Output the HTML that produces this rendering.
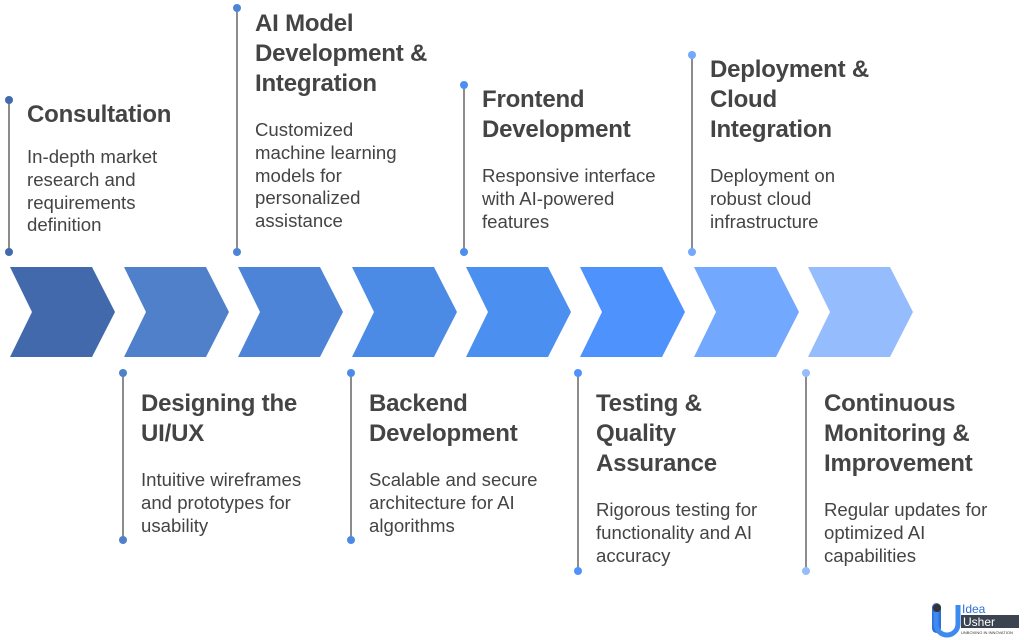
<!DOCTYPE html><html><head><style>
body{margin:0;width:1024px;height:640px;background:#fff;position:relative;overflow:hidden;font-family:"Liberation Sans",Arial,sans-serif;color:#444}
.t{position:absolute;font-size:24px;font-weight:bold;line-height:30px;color:#444;white-space:nowrap;letter-spacing:-0.2px}
.b{position:absolute;font-size:18.6px;line-height:22.8px;color:#444;white-space:nowrap}
</style></head><body>
<svg width="1024" height="640" style="position:absolute;left:0;top:0">
<g stroke="#666" stroke-width="1.5">
<line x1="9" y1="100" x2="9" y2="252"/><line x1="237" y1="8" x2="237" y2="252"/>
<line x1="464" y1="85" x2="464" y2="252"/><line x1="692" y1="55" x2="692" y2="252"/>
<line x1="123" y1="373" x2="123" y2="540"/><line x1="351" y1="373" x2="351" y2="540"/>
<line x1="578" y1="373" x2="578" y2="571"/><line x1="806" y1="373" x2="806" y2="571"/>
</g>
<g>
<circle cx="9" cy="100" r="4" fill="#4169ab"/><circle cx="9" cy="252" r="4" fill="#4169ab"/>
<circle cx="237" cy="8" r="4" fill="#4e84d8"/><circle cx="237" cy="252" r="4" fill="#4e84d8"/>
<circle cx="464" cy="85" r="4" fill="#4b8ff0"/><circle cx="464" cy="252" r="4" fill="#4b8ff0"/>
<circle cx="692" cy="55" r="4" fill="#72a8fd"/><circle cx="692" cy="252" r="4" fill="#72a8fd"/>
<circle cx="123" cy="373" r="4" fill="#4f80c9"/><circle cx="123" cy="540" r="4" fill="#4f80c9"/>
<circle cx="351" cy="373" r="4" fill="#4b8be6"/><circle cx="351" cy="540" r="4" fill="#4b8be6"/>
<circle cx="578" cy="373" r="4" fill="#4e92fe"/><circle cx="578" cy="571" r="4" fill="#4e92fe"/>
<circle cx="806" cy="373" r="4" fill="#95bdfd"/><circle cx="806" cy="571" r="4" fill="#95bdfd"/>
</g>
<g>
<polygon points="10,267 92,267 115,312 92,357 10,357 32,312" fill="#4169ab"/>
<polygon points="124,267 206,267 229,312 206,357 124,357 146,312" fill="#4f80c9"/>
<polygon points="238,267 320,267 343,312 320,357 238,357 260,312" fill="#4e84d8"/>
<polygon points="352,267 434,267 457,312 434,357 352,357 374,312" fill="#4b8be6"/>
<polygon points="466,267 548,267 571,312 548,357 466,357 488,312" fill="#4b8ff0"/>
<polygon points="580,267 662,267 685,312 662,357 580,357 602,312" fill="#4e92fe"/>
<polygon points="694,267 776,267 799,312 776,357 694,357 716,312" fill="#72a8fd"/>
<polygon points="808,267 890,267 913,312 890,357 808,357 830,312" fill="#95bdfd"/>
</g>
<g>
<rect x="932" y="603" width="9" height="30" rx="4.5" fill="#2f6fd6"/>
<circle cx="937" cy="608" r="4" fill="#333"/>
<path d="M936 612 v12 a11 11 0 0 0 22 0 v-19" fill="none" stroke="#3d8af0" stroke-width="5"/>
<text x="962" y="613" font-family="Liberation Sans" font-size="12" fill="#2f6fd6">Idea</text>
<rect x="961" y="615" width="58" height="13" fill="#3b4450"/>
<text x="963" y="626" font-family="Liberation Sans" font-size="12" fill="#fff">Usher</text>
<text x="961" y="634" font-family="Liberation Sans" font-size="4" fill="#333">UNBOXING IN INNOVATION</text>
</g>
</svg>
<div class="t" style="left:27px;top:100px">Consultation</div>
<div class="b" style="left:27px;top:146px">In-depth market<br>research and<br>requirements<br>definition</div>
<div class="t" style="left:255px;top:9px">AI Model<br>Development &amp;<br>Integration</div>
<div class="b" style="left:255px;top:119px">Customized<br>machine learning<br>models for<br>personalized<br>assistance</div>
<div class="t" style="left:482px;top:85px">Frontend<br>Development</div>
<div class="b" style="left:482px;top:165px">Responsive interface<br>with AI-powered<br>features</div>
<div class="t" style="left:710px;top:55px">Deployment &amp;<br>Cloud<br>Integration</div>
<div class="b" style="left:710px;top:165px">Deployment on<br>robust cloud<br>infrastructure</div>
<div class="t" style="left:141px;top:389px">Designing the<br>UI/UX</div>
<div class="b" style="left:141px;top:469px">Intuitive wireframes<br>and prototypes for<br>usability</div>
<div class="t" style="left:369px;top:389px">Backend<br>Development</div>
<div class="b" style="left:369px;top:469px">Scalable and secure<br>architecture for AI<br>algorithms</div>
<div class="t" style="left:596px;top:389px">Testing &amp;<br>Quality<br>Assurance</div>
<div class="b" style="left:596px;top:499px">Rigorous testing for<br>functionality and AI<br>accuracy</div>
<div class="t" style="left:824px;top:389px">Continuous<br>Monitoring &amp;<br>Improvement</div>
<div class="b" style="left:824px;top:499px">Regular updates for<br>optimized AI<br>capabilities</div>
</body></html>
